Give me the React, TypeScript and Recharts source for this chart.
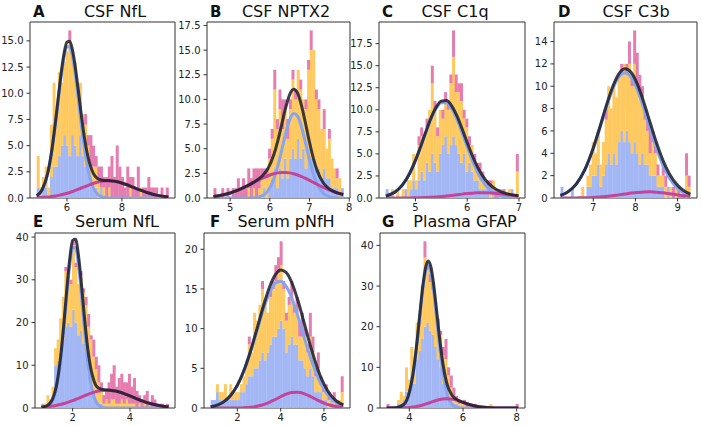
import { ComposedChart, Bar, Line, XAxis, YAxis, ReferenceArea } from 'recharts';

// stacked histogram counts per bin (50 bins each), bottom to top: blue, yellow, pink
const A_BLUE = [1,0,1,1,0,2,3,3,4,5, 6,5,4,6,5,4,6,4,3,3, 2,1,1,0,1,0,0,0,0,0, 0,0,0,0,0,0,0,0,0,0, 0,0,0,0,0,0,0,0,0,0];
const A_YELLOW = [3,1,1,2,1,5,8,5,8,6, 7,9,11,8,8,6,5,4,4,2, 1,2,2,2,0,1,0,1,0,0, 0,0,0,0,0,1,0,0,0,1, 0,0,0,0,0,0,0,0,0,0];
const A_PINK = [0,0,0,0,0,0,0,0,0,0, 0,0,1,0,0,0,0,0,1,1, 3,2,1,1,2,1,2,2,4,2, 5,3,2,1,3,1,2,1,3,0, 1,1,2,1,1,1,0,1,0,1];

const B_BLUE = [0,0,0,0,0,0,0,0,0,0, 0,0,0,0,0,0,0,0,0,1, 0,1,2,3,1,3,2,4,2,4, 5,4,6,4,5,3,5,4,4,3, 3,2,3,2,2,1,1,1,0,1];
const B_YELLOW = [0,0,0,0,0,0,0,0,0,0, 0,0,0,1,0,1,0,1,2,1, 2,3,4,8,6,6,5,5,4,5, 7,6,7,7,5,6,8,11,11,7, 6,5,4,3,4,3,2,1,2,0];
const B_PINK = [1,0,0,1,0,1,0,1,1,2, 1,2,1,2,2,2,3,2,1,1, 1,1,1,2,1,2,3,1,2,1, 1,1,0,1,0,1,1,2,0,1, 1,0,2,0,1,0,0,1,0,0];

const C_BLUE = [1,0,0,0,0,0,0,1,0,1, 2,1,2,3,2,4,3,5,4,3, 5,6,7,5,6,7,6,5,4,5, 3,4,3,2,2,1,1,1,1,0, 1,0,1,0,0,0,0,1,0,0];
const C_YELLOW = [0,0,1,0,1,0,1,0,2,1, 3,1,4,4,5,4,7,8,6,4, 5,3,4,5,7,9,6,7,7,4, 5,2,3,2,1,2,1,1,0,1, 1,0,0,1,0,0,1,0,0,3];
const C_PINK = [0,0,0,0,0,0,0,0,0,0, 0,0,1,1,0,1,0,2,1,1, 0,1,1,1,1,3,2,1,2,1, 1,1,0,1,1,1,1,0,1,1, 0,1,0,0,1,0,0,0,0,2];

const D_BLUE = [1,0,0,0,1,0,0,0,0,0, 1,1,2,2,3,1,2,3,4,3, 4,3,5,6,5,6,5,4,5,4, 3,4,3,3,2,2,2,1,1,1, 0,1,0,0,0,0,0,0,0,0];
const D_YELLOW = [0,0,0,0,0,0,0,0,1,0, 1,2,3,2,3,2,3,4,6,5, 6,6,6,5,7,5,7,6,7,6, 6,5,4,3,2,3,2,1,1,1, 1,0,1,0,1,0,0,0,2,1];
const D_PINK = [0,0,0,0,0,0,0,0,0,0, 0,0,0,0,0,0,0,1,0,0, 0,0,0,1,0,1,2,1,3,3, 2,1,1,1,2,1,1,1,0,1, 1,0,0,1,0,1,0,0,2,1];

const E_BLUE = [1,0,1,1,2,10,11,13,16,19, 20,19,23,20,17,18,15,13,8,5, 4,2,1,1,0,0,0,0,0,0, 0,0,0,0,0,0,0,0,0,0, 0,0,0,0,0,0,0,0,0,0];
const E_YELLOW = [0,1,2,1,3,4,5,8,10,13, 11,10,15,13,12,13,12,11,11,11, 8,7,5,3,1,2,1,2,2,1, 1,2,1,2,1,1,1,0,1,0, 1,0,1,0,0,0,0,0,0,0];
const E_PINK = [0,0,0,0,0,0,0,0,0,1, 1,1,1,1,0,1,1,2,3,1, 4,3,4,2,2,2,5,6,8,4, 6,6,5,4,7,4,6,4,2,2, 2,4,0,3,2,1,1,1,0,1];

const F_BLUE = [1,1,2,1,1,1,1,1,1,1, 1,2,2,3,4,4,5,5,6,7, 6,7,8,9,9,10,11,10,7,8, 9,8,8,6,6,5,4,5,4,2, 2,2,1,1,0,1,0,0,0,0];
const F_YELLOW = [0,0,1,1,1,2,0,2,1,1, 1,1,2,3,4,3,7,6,7,8, 7,5,6,6,7,7,7,5,4,5, 5,4,4,3,3,4,3,4,3,2, 3,1,1,1,1,0,1,0,1,2];
const F_PINK = [0,0,0,0,0,0,0,0,0,0, 0,0,0,0,1,0,0,0,0,1, 0,0,1,1,2,2,3,1,1,1, 2,1,2,2,3,1,1,3,2,1, 2,1,1,1,1,0,1,1,0,2];

const G_BLUE = [0,0,0,0,1,1,2,4,4,8, 6,12,14,17,20,21,19,18,15,12, 10,6,5,3,2,1,1,0,0,0, 0,0,0,0,0,0,0,0,0,0, 0,0,0,0,0,0,0,0,0,0];
const G_YELLOW = [0,0,0,0,1,3,1,6,3,7, 4,9,8,12,17,13,12,11,10,8, 8,7,7,5,3,2,1,1,1,1, 0,1,0,0,0,0,0,0,0,1, 0,0,0,0,0,0,0,0,0,0];
const G_PINK = [1,0,0,0,0,0,0,0,0,0, 0,0,0,1,4,1,2,2,1,2, 1,2,5,2,3,2,1,1,0,1, 1,0,0,1,0,0,0,0,0,0, 0,0,0,0,0,0,0,0,0,1];

// fitted curves: x, blue component, pink component, total
const A_FX = [4.9,5.1,5.3,5.45,5.6,5.7,5.8,5.9,6.0,6.1,6.2,6.3,6.4,6.5,6.6,6.75,6.9,7.1,7.3,7.5,7.8,8.1,8.4,8.7,9.0,9.3,9.69];
const A_FB = [0.18,0.75,2.29,4.45,7.48,9.73,11.84,13.51,14.43,14.43,13.51,11.84,9.73,7.48,5.38,2.91,1.35,0.39,0.09,0.01,0,0,0,0,0,0,0];
const A_FP = [0.03,0.06,0.1,0.15,0.2,0.25,0.31,0.38,0.45,0.53,0.62,0.72,0.82,0.93,1.03,1.19,1.34,1.5,1.61,1.65,1.57,1.34,1.03,0.72,0.45,0.25,0.1];
const A_FT = [0.21,0.81,2.39,4.6,7.68,9.98,12.15,13.89,14.88,14.96,14.13,12.56,10.55,8.41,6.41,4.1,2.69,1.89,1.7,1.66,1.57,1.34,1.03,0.72,0.45,0.25,0.1];

const B_FX = [4.58,4.8,5.0,5.2,5.4,5.6,5.8,5.95,6.1,6.2,6.3,6.4,6.5,6.6,6.7,6.8,6.9,7.0,7.1,7.2,7.35,7.5,7.65,7.85];
const B_FB = [0,0,0,0,0,0.03,0.21,0.71,1.92,3.23,4.87,6.57,7.94,8.58,8.3,7.18,5.57,3.86,2.39,1.33,0.45,0.12,0.02,0];
const B_FP = [0.16,0.31,0.51,0.8,1.17,1.58,1.99,2.25,2.46,2.55,2.59,2.59,2.55,2.46,2.33,2.17,1.99,1.79,1.58,1.37,1.07,0.8,0.58,0.35];
const B_FT = [0.16,0.31,0.51,0.8,1.17,1.61,2.2,2.96,4.38,5.78,7.46,9.16,10.49,11.04,10.63,9.35,7.56,5.65,3.97,2.7,1.52,0.92,0.6,0.35];

const C_FX = [4.43,4.6,4.75,4.9,5.0,5.1,5.2,5.3,5.4,5.5,5.6,5.7,5.8,5.9,6.0,6.1,6.2,6.35,6.5,6.65,6.8,6.99];
const C_FB = [0.22,0.65,1.47,2.91,4.24,5.79,7.43,8.97,10.16,10.81,10.81,10.16,8.97,7.43,5.79,4.24,2.91,1.47,0.65,0.25,0.08,0.02];
const C_FP = [0,0,0.01,0.01,0.02,0.03,0.05,0.08,0.12,0.17,0.23,0.29,0.36,0.44,0.5,0.55,0.59,0.6,0.55,0.47,0.36,0.23];
const C_FT = [0.22,0.65,1.48,2.92,4.26,5.82,7.48,9.05,10.28,10.98,11.04,10.45,9.33,7.87,6.29,4.79,3.5,2.07,1.2,0.72,0.44,0.25];

const D_FX = [6.22,6.4,6.6,6.8,7.0,7.15,7.3,7.45,7.6,7.75,7.9,8.05,8.2,8.35,8.5,8.65,8.8,9.0,9.15,9.3];
const D_FB = [0.23,0.55,1.26,2.52,4.42,6.18,8.01,9.65,10.79,11.2,10.79,9.65,8.01,6.18,4.42,2.93,1.81,0.85,0.44,0.21];
const D_FP = [0,0,0.01,0.02,0.05,0.09,0.14,0.2,0.28,0.36,0.44,0.5,0.54,0.55,0.52,0.46,0.39,0.28,0.2,0.14];
const D_FT = [0.23,0.55,1.27,2.54,4.47,6.27,8.15,9.85,11.07,11.56,11.23,10.15,8.55,6.73,4.94,3.39,2.2,1.13,0.64,0.35];

const E_FX = [0.91,1.1,1.3,1.45,1.6,1.7,1.8,1.9,2.0,2.1,2.2,2.3,2.4,2.5,2.6,2.75,2.9,3.1,3.3,3.5,3.8,4.1,4.4,4.7,5.0,5.35];
const E_FB = [0.03,0.25,1.67,5.14,12.34,19.23,26.87,33.54,37.47,37.47,33.54,26.87,19.23,12.34,7.08,2.5,0.69,0.08,0,0,0,0,0,0,0,0];
const E_FP = [0.17,0.28,0.45,0.63,0.87,1.05,1.25,1.48,1.73,1.99,2.27,2.55,2.83,3.1,3.37,3.71,3.97,4.17,4.17,3.97,3.37,2.55,1.73,1.05,0.57,0.24];
const E_FT = [0.2,0.53,2.12,5.77,13.21,20.28,28.12,35.02,39.2,39.46,35.81,29.42,22.06,15.44,10.45,6.21,4.66,4.25,4.17,3.97,3.37,2.55,1.73,1.05,0.57,0.24];

const F_FX = [0.77,1.1,1.4,1.7,2.0,2.3,2.6,2.9,3.2,3.5,3.75,4.0,4.25,4.5,4.8,5.1,5.4,5.7,6.0,6.3,6.6,6.89];
const F_FB = [0.16,0.4,0.84,1.61,2.85,4.66,7.0,9.7,12.4,14.6,15.71,15.98,15.36,13.95,11.52,8.78,6.17,3.99,2.38,1.31,0.66,0.32];
const F_FP = [0,0,0,0,0.01,0.04,0.09,0.21,0.42,0.74,1.07,1.42,1.74,1.95,1.99,1.79,1.42,1.0,0.62,0.34,0.16,0.07];
const F_FT = [0.16,0.4,0.84,1.61,2.86,4.7,7.09,9.91,12.82,15.34,16.78,17.4,17.1,15.9,13.51,10.57,7.59,4.99,3.0,1.65,0.82,0.39];

const G_FX = [3.15,3.5,3.8,4.0,4.15,4.3,4.4,4.5,4.6,4.7,4.8,4.9,5.0,5.1,5.25,5.4,5.6,5.8,6.0,6.3,6.6,7.0,7.5,8.06];
const G_FB = [0,0.05,0.85,3.69,8.72,16.79,23.16,29.13,33.43,35.0,33.43,29.13,23.16,16.79,8.72,3.69,0.85,0.14,0.01,0,0,0,0,0];
const G_FP = [0,0.02,0.07,0.15,0.26,0.43,0.57,0.75,0.95,1.16,1.39,1.63,1.84,2.03,2.23,2.3,2.18,1.84,1.39,0.75,0.31,0.07,0.01,0];
const G_FT = [0,0.07,0.92,3.84,8.98,17.22,23.73,29.88,34.38,36.16,34.82,30.76,25.0,18.82,10.95,5.99,3.03,1.98,1.4,0.75,0.31,0.07,0.01,0];

const COL_BLUE = '#a3b7f5';
const COL_YELLOW = '#fec95f';
const COL_PINK = '#e57db0';
const FONT = 'DejaVu Sans, sans-serif';

const fmt1 = (v: number) => v.toFixed(1);
const fmt0 = (v: number) => String(v);

const PANELS = [
  { letter: 'A', title: 'CSF NfL', left: 30, top: 22, w: 145, h: 176, xDomain: [4.655, 9.93], yDomain: [0, 16.8], xTicks: [6, 8], yTicks: [0, 2.5, 5, 7.5, 10, 12.5, 15], yFmt: fmt1, binRange: [4.9, 9.69], blue: A_BLUE, yellow: A_YELLOW, pink: A_PINK, fx: A_FX, fb: A_FB, fp: A_FP, ft: A_FT, letterX: 33, titleC: 115, textY: 4 },
  { letter: 'B', title: 'CSF NPTX2', left: 207, top: 22, w: 143, h: 176, xDomain: [4.417, 8.02], yDomain: [0, 17.85], xTicks: [5, 6, 7, 8], yTicks: [0, 2.5, 5, 7.5, 10, 12.5, 15, 17.5], yFmt: fmt1, binRange: [4.58, 7.856], blue: B_BLUE, yellow: B_YELLOW, pink: B_PINK, fx: B_FX, fb: B_FB, fp: B_FP, ft: B_FT, letterX: 210, titleC: 286, textY: 4 },
  { letter: 'C', title: 'CSF C1q', left: 379, top: 22, w: 146, h: 176, xDomain: [4.297, 7.116], yDomain: [0, 19.95], xTicks: [5, 6, 7], yTicks: [0, 2.5, 5, 7.5, 10, 12.5, 15, 17.5], yFmt: fmt1, binRange: [4.425, 6.99], blue: C_BLUE, yellow: C_YELLOW, pink: C_PINK, fx: C_FX, fb: C_FB, fp: C_FP, ft: C_FT, letterX: 382, titleC: 455, textY: 4 },
  { letter: 'D', title: 'CSF C3b', left: 554, top: 22, w: 143, h: 176, xDomain: [6.069, 9.46], yDomain: [0, 15.75], xTicks: [7, 8, 9], yTicks: [0, 2, 4, 6, 8, 10, 12, 14], yFmt: fmt0, binRange: [6.223, 9.3], blue: D_BLUE, yellow: D_YELLOW, pink: D_PINK, fx: D_FX, fb: D_FB, fp: D_FP, ft: D_FT, letterX: 558, titleC: 636, textY: 4 },
  { letter: 'E', title: 'Serum NfL', left: 35, top: 233, w: 140, h: 175, xDomain: [0.686, 5.57], yDomain: [0, 40.95], xTicks: [2, 4], yTicks: [0, 10, 20, 30, 40], yFmt: fmt0, binRange: [0.908, 5.35], blue: E_BLUE, yellow: E_YELLOW, pink: E_PINK, fx: E_FX, fb: E_FB, fp: E_FP, ft: E_FT, letterX: 33, titleC: 117, textY: 214 },
  { letter: 'F', title: 'Serum pNfH', left: 204, top: 233, w: 146, h: 175, xDomain: [0.462, 7.2], yDomain: [0, 22.05], xTicks: [2, 4, 6], yTicks: [0, 5, 10, 15, 20], yFmt: fmt0, binRange: [0.768, 6.893], blue: F_BLUE, yellow: F_YELLOW, pink: F_PINK, fx: F_FX, fb: F_FB, fp: F_FP, ft: F_FT, letterX: 210, titleC: 286, textY: 214 },
  { letter: 'G', title: 'Plasma GFAP', left: 380, top: 233, w: 145, h: 175, xDomain: [2.907, 8.31], yDomain: [0, 43.05], xTicks: [4, 6, 8], yTicks: [0, 10, 20, 30, 40], yFmt: fmt0, binRange: [3.152, 8.06], blue: G_BLUE, yellow: G_YELLOW, pink: G_PINK, fx: G_FX, fb: G_FB, fp: G_FP, ft: G_FT, letterX: 382, titleC: 465, textY: 214 },
];

const ML = 40;
const MT = 6;
const MB = 22;
const MR = 6;

const Panel = ({ p }: { p: any }) => {
  const bw = (p.binRange[1] - p.binRange[0]) / p.blue.length;
  const bins = p.blue.map((b: number, i: number) => ({
    x: p.binRange[0] + (i + 0.5) * bw,
    blue: b,
    yellow: p.yellow[i],
    pink: p.pink[i],
  }));
  const fit = p.fx.map((x: number, i: number) => ({ x, fb: p.fb[i], fp: p.fp[i], ft: p.ft[i] }));
  const tick = { fontSize: 10, fill: '#222', fontFamily: FONT };

  return (
    <>
      <div style={{ position: 'absolute', left: p.letterX, top: p.textY, fontFamily: FONT, fontWeight: 700, fontSize: 15, lineHeight: '16px', color: '#111' }}>
        {p.letter}
      </div>
      <div style={{ position: 'absolute', left: p.titleC - 100, width: 200, top: p.textY, textAlign: 'center', fontFamily: FONT, fontSize: 16, lineHeight: '16px', color: '#111' }}>
        {p.title}
      </div>
      <div style={{ position: 'absolute', left: p.left - ML, top: p.top - MT }}>
        <ComposedChart
          width={p.w + ML + MR}
          height={p.h + MT + MB}
          data={bins}
          margin={{ top: MT, right: MR, bottom: 0, left: 0 }}
          barCategoryGap={0}
          barGap={0}
        >
          <XAxis
            dataKey="x"
            type="number"
            domain={p.xDomain}
            allowDataOverflow
            ticks={p.xTicks}
            interval={0}
            height={MB}
            axisLine={false}
            tickSize={3.5}
            tickMargin={2}
            tickLine={{ stroke: '#333' }}
            tick={tick}
          />
          <XAxis xAxisId="fit" dataKey="x" type="number" domain={p.xDomain} allowDataOverflow hide />
          <YAxis
            type="number"
            domain={p.yDomain}
            allowDataOverflow
            ticks={p.yTicks}
            interval={0}
            width={ML}
            axisLine={false}
            tickSize={3.5}
            tickMargin={3}
            tickLine={{ stroke: '#333' }}
            tick={tick}
            tickFormatter={p.yFmt}
          />
          <Bar dataKey="blue" stackId="h" fill={COL_BLUE} isAnimationActive={false} />
          <Bar dataKey="yellow" stackId="h" fill={COL_YELLOW} isAnimationActive={false} />
          <Bar dataKey="pink" stackId="h" fill={COL_PINK} isAnimationActive={false} />
          <Line data={fit} xAxisId="fit" dataKey="fb" type="monotone" stroke="#86a4f0" strokeWidth={3} dot={false} activeDot={false} isAnimationActive={false} />
          <Line data={fit} xAxisId="fit" dataKey="fp" type="monotone" stroke="#c4449c" strokeWidth={3} dot={false} activeDot={false} isAnimationActive={false} />
          <Line data={fit} xAxisId="fit" dataKey="ft" type="monotone" stroke="#1a1d2a" strokeOpacity={0.85} strokeWidth={3} dot={false} activeDot={false} isAnimationActive={false} />
          <ReferenceArea x1={p.xDomain[0]} x2={p.xDomain[1]} y1={0} y2={p.yDomain[1]} fill="none" stroke="#333" strokeWidth={1} ifOverflow="visible" />
        </ComposedChart>
      </div>
    </>
  );
};

export default function App() {
  return (
    <div style={{ position: 'absolute', left: 0, top: 0, width: 702, height: 426, background: '#fff', overflow: 'hidden' }}>
      {PANELS.map((p) => (
        <Panel key={p.letter} p={p} />
      ))}
    </div>
  );
}
